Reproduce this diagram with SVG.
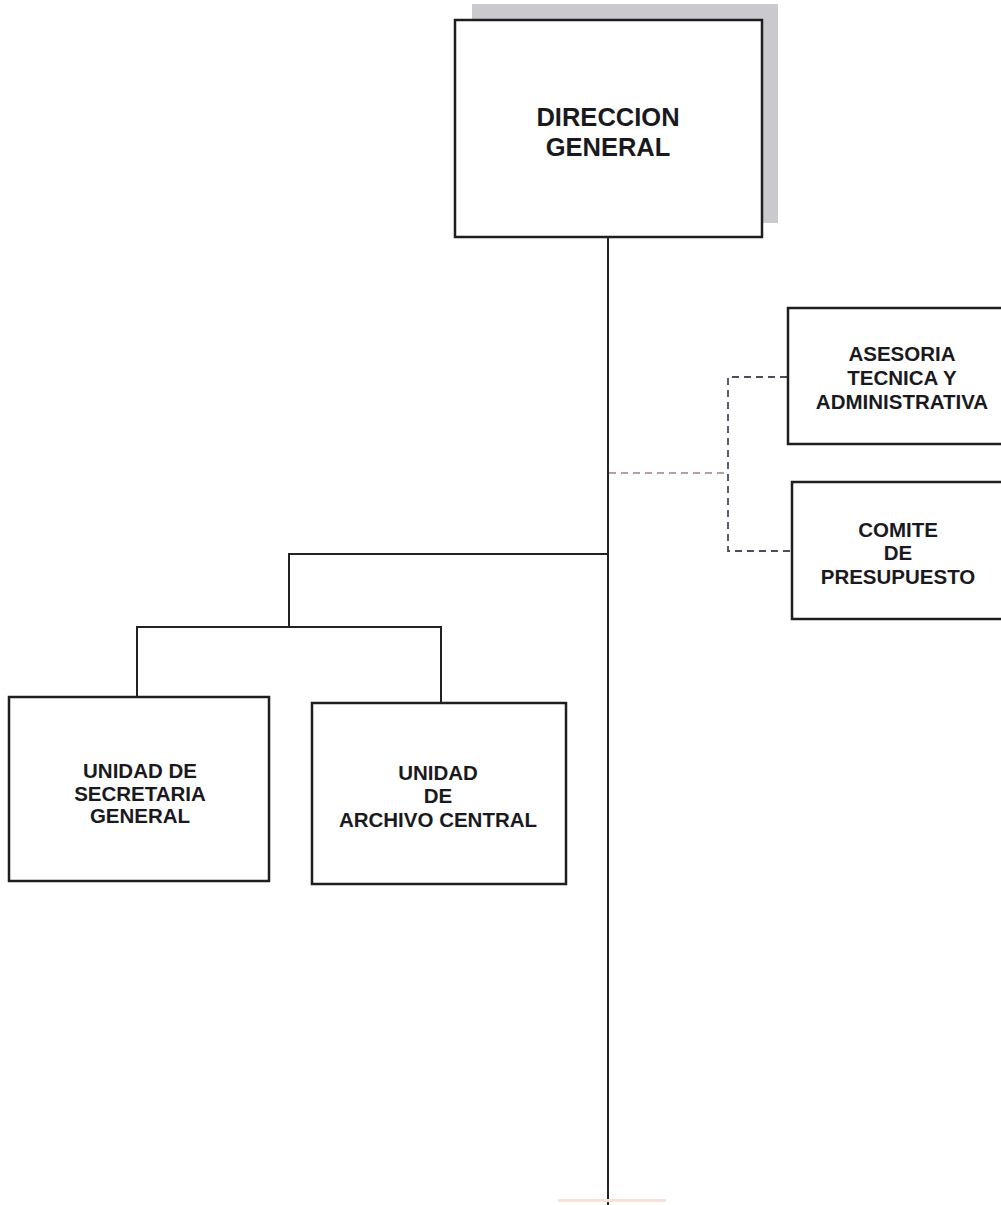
<svg xmlns="http://www.w3.org/2000/svg" width="1001" height="1205" viewBox="0 0 1001 1205">
<style>
.box{fill:#fff;stroke:#1e1e22;stroke-width:2.5}
.t{font-family:"Liberation Sans",Arial,sans-serif;font-weight:bold;fill:#1a1a1e;text-anchor:middle}
.big{font-size:25.5px}
.sm{font-size:20.5px}
.ln{stroke:#222226;stroke-width:2;fill:none}
.dash{stroke:#4a4e5c;stroke-width:1.8;fill:none;stroke-dasharray:7 5}
.dashr{stroke:#a07c84;stroke-width:1.6;fill:none;stroke-dasharray:7 5}
</style>
<rect width="1001" height="1205" fill="#fff"/>
<g id="connectors">
<line class="ln" x1="608" y1="237" x2="608" y2="1205"/>
<polyline class="ln" points="608,554 289,554 289,627"/>
<polyline class="ln" points="137,697 137,627 441,627 441,703"/>
<line class="dashr" x1="609" y1="473" x2="728" y2="473"/>
<polyline class="dash" points="787,377 728,377 728,551 791,551"/>
<rect x="558" y="1199" width="108" height="3" fill="#f6e2d6"/>
</g>
<g id="direccion-general">
<rect x="472" y="4" width="306" height="219" fill="#cacace"/>
<rect class="box" x="455" y="20" width="307" height="217"/>
<text class="t big" x="608" y="126">DIRECCION</text>
<text class="t big" x="608" y="156">GENERAL</text>
</g>
<g id="asesoria">
<rect class="box" x="788" y="308" width="230" height="136"/>
<text class="t sm" x="902" y="361">ASESORIA</text>
<text class="t sm" x="902" y="385">TECNICA Y</text>
<text class="t sm" x="902" y="409">ADMINISTRATIVA</text>
</g>
<g id="comite">
<rect class="box" x="792" y="482" width="230" height="137"/>
<text class="t sm" x="898" y="537">COMITE</text>
<text class="t sm" x="898" y="560">DE</text>
<text class="t sm" x="898" y="584">PRESUPUESTO</text>
</g>
<g id="secretaria">
<rect class="box" x="9" y="697" width="260" height="184"/>
<text class="t sm" x="140" y="778">UNIDAD DE</text>
<text class="t sm" x="140" y="801">SECRETARIA</text>
<text class="t sm" x="140" y="823">GENERAL</text>
</g>
<g id="archivo">
<rect class="box" x="312" y="703" width="254" height="181"/>
<text class="t sm" x="438" y="780">UNIDAD</text>
<text class="t sm" x="438" y="803">DE</text>
<text class="t sm" x="438" y="827">ARCHIVO CENTRAL</text>
</g>
</svg>
